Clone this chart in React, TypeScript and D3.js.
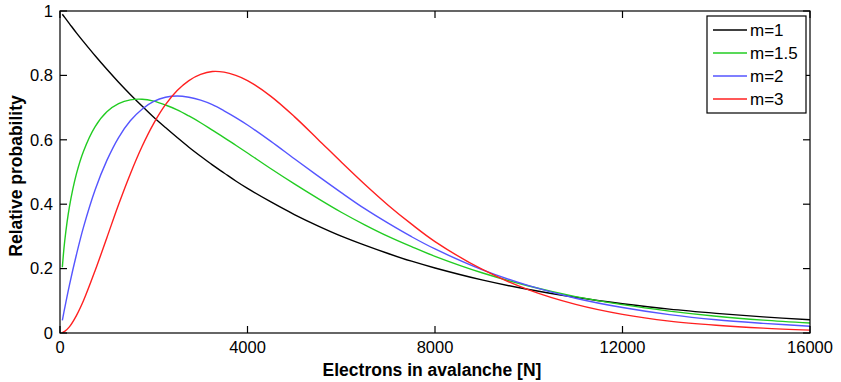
import React from "react";
import * as d3 from "d3";

const electrons = [50, 100, 200, 350, 500, 750, 1000, 1250, 1500, 1750, 2000, 2250, 2500, 2750, 3000, 3250, 3500, 3750, 4000, 4500, 5000, 5500, 6000, 6500, 7000, 7500, 8000, 9000, 10000, 11000, 12000, 13000, 14000, 15000, 16000];

const m1 = [0.99, 0.98, 0.961, 0.932, 0.905, 0.861, 0.819, 0.779, 0.741, 0.705, 0.670, 0.638, 0.607, 0.577, 0.549, 0.522, 0.497, 0.472, 0.449, 0.407, 0.368, 0.333, 0.301, 0.273, 0.247, 0.223, 0.202, 0.165, 0.135, 0.111, 0.091, 0.074, 0.061, 0.050, 0.041];
const m15 = [0.204, 0.285, 0.391, 0.494, 0.564, 0.641, 0.687, 0.712, 0.724, 0.726, 0.720, 0.708, 0.693, 0.674, 0.653, 0.630, 0.607, 0.583, 0.559, 0.510, 0.463, 0.418, 0.375, 0.336, 0.300, 0.268, 0.238, 0.187, 0.146, 0.113, 0.088, 0.068, 0.052, 0.040, 0.031];
const m2 = [0.039, 0.077, 0.148, 0.243, 0.328, 0.445, 0.536, 0.607, 0.659, 0.695, 0.719, 0.732, 0.736, 0.732, 0.723, 0.709, 0.690, 0.669, 0.646, 0.595, 0.541, 0.488, 0.436, 0.386, 0.341, 0.299, 0.261, 0.197, 0.147, 0.108, 0.079, 0.057, 0.041, 0.030, 0.021];
const m3 = [0.001, 0.005, 0.019, 0.054, 0.100, 0.194, 0.296, 0.399, 0.494, 0.579, 0.651, 0.709, 0.753, 0.784, 0.803, 0.812, 0.810, 0.800, 0.784, 0.735, 0.672, 0.602, 0.531, 0.462, 0.397, 0.338, 0.284, 0.198, 0.134, 0.089, 0.058, 0.037, 0.024, 0.015, 0.009];

const seriesNames = ["m=1", "m=1.5", "m=2", "m=3"];
const seriesValues = [m1, m15, m2, m3];
const seriesColors = ["#000000", "#22cc22", "#5555ff", "#ff2020"];

const xTicks = [0, 4000, 8000, 12000, 16000];
const yTicks = [0, 0.2, 0.4, 0.6, 0.8, 1];
const yTickLabels = ["0", "0.2", "0.4", "0.6", "0.8", "1"];

const W = 841;
const H = 382;
const L = 60, R = 810, T = 11, B = 333;

export default function App() {
  const x = d3.scaleLinear().domain([0, 16000]).range([L, R]);
  const y = d3.scaleLinear().domain([0, 1]).range([B, T]);
  const line = d3
    .line<number>()
    .x((_, i) => x(electrons[i]))
    .y((v) => y(v))
    .curve(d3.curveCatmullRom.alpha(0.5));
  const font = "'Liberation Sans', Arial, Helvetica, sans-serif";
  const tickLen = 7;
  const legX = 707, legY = 16, legW = 99, legH = 97;
  const rowY = (i: number) => 30 + i * 23;
  return (
    <svg width={W} height={H} style={{ position: "absolute", left: 0, top: 0, background: "#fff" }} fontFamily={font}>
      <rect x={0} y={0} width={W} height={H} fill="#fff" />
      <defs>
        <clipPath id="plot">
          <rect x={L} y={T} width={R - L} height={B - T} />
        </clipPath>
      </defs>
      <g clipPath="url(#plot)">
        {seriesValues.map((vals, k) => (
          <path key={k} d={line(vals) || ""} fill="none" stroke={seriesColors[k]} strokeWidth={1.4} strokeLinejoin="round" />
        ))}
      </g>
      <rect x={L} y={T} width={R - L} height={B - T} fill="none" stroke="#000" strokeWidth={1.2} />
      {xTicks.map((t) => (
        <g key={"x" + t}>
          <line x1={x(t)} x2={x(t)} y1={B} y2={B - tickLen} stroke="#000" strokeWidth={1.2} />
          <line x1={x(t)} x2={x(t)} y1={T} y2={T + tickLen} stroke="#000" strokeWidth={1.2} />
          <text x={x(t)} y={353} fontSize={16.5} textAnchor="middle">{t}</text>
        </g>
      ))}
      {yTicks.map((t, i) => (
        <g key={"y" + t}>
          <line x1={L} x2={L + tickLen} y1={y(t)} y2={y(t)} stroke="#000" strokeWidth={1.2} />
          <line x1={R} x2={R - tickLen} y1={y(t)} y2={y(t)} stroke="#000" strokeWidth={1.2} />
          <text x={53} y={y(t)} dy="0.35em" fontSize={16.5} textAnchor="end">{yTickLabels[i]}</text>
        </g>
      ))}
      <text x={432} y={376} fontSize={17.5} fontWeight="bold" textAnchor="middle">Electrons in avalanche [N]</text>
      <text transform={`translate(22, 176) rotate(-90)`} fontSize={17.5} fontWeight="bold" textAnchor="middle">Relative probability</text>
      <rect x={legX} y={legY} width={legW} height={legH} fill="#fff" stroke="#000" strokeWidth={1.2} />
      {seriesNames.map((n, i) => (
        <g key={n}>
          <line x1={713} x2={747} y1={rowY(i)} y2={rowY(i)} stroke={seriesColors[i]} strokeWidth={1.4} />
          <text x={750} y={rowY(i)} dy="0.35em" fontSize={17}>{n}</text>
        </g>
      ))}
    </svg>
  );
}
